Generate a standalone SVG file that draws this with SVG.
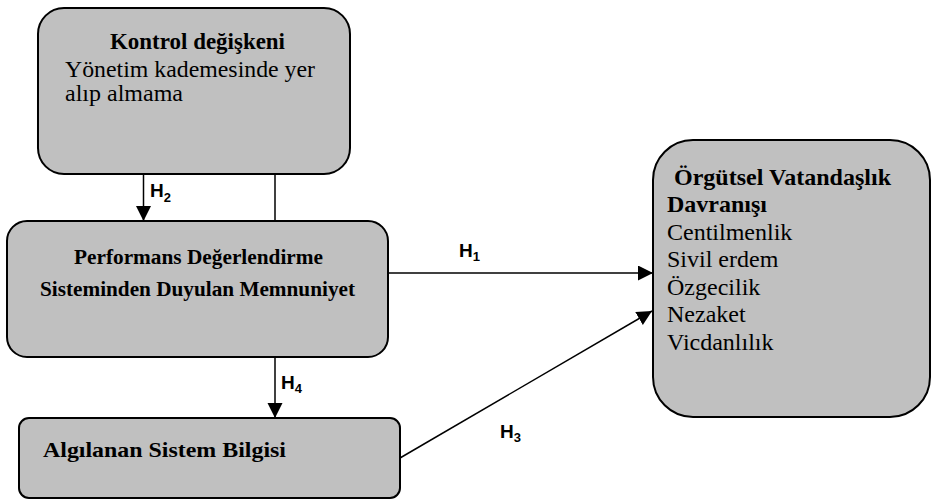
<svg xmlns="http://www.w3.org/2000/svg" width="932" height="499" viewBox="0 0 932 499">
<style>
.box{fill:#c0c0c0;stroke:#000;stroke-width:2}
.serif{font-family:"Liberation Serif","Times New Roman",serif;fill:#000}
.b{font-weight:bold}
.lbl{font-family:"Liberation Sans",Arial,sans-serif;font-weight:bold;fill:#000;font-size:19px}
.sub{font-size:13px}
.conn{stroke:#000;stroke-width:1.5;fill:none}
</style>
<defs>
<marker id="arr" markerUnits="userSpaceOnUse" markerWidth="16" markerHeight="16" refX="15" refY="7.5" orient="auto">
<path d="M0,0 L15,7.5 L0,15 z" fill="#000"/>
</marker>
</defs>
<rect width="932" height="499" fill="#fff"/>
<g id="connectors">
<line class="conn" x1="143.5" y1="174" x2="143.5" y2="221" marker-end="url(#arr)"/>
<line class="conn" x1="275" y1="174" x2="275" y2="221"/>
<line class="conn" x1="388" y1="273" x2="653" y2="273" marker-end="url(#arr)"/>
<line class="conn" x1="275" y1="357" x2="275" y2="418" marker-end="url(#arr)"/>
<line class="conn" x1="400" y1="458" x2="652" y2="311" marker-end="url(#arr)"/>
<text class="lbl" x="150" y="197">H<tspan class="sub" dy="5">2</tspan></text>
<text class="lbl" x="459" y="257">H<tspan class="sub" dy="4">1</tspan></text>
<text class="lbl" x="281" y="389">H<tspan class="sub" dy="4">4</tspan></text>
<text class="lbl" x="500" y="438">H<tspan class="sub" dy="4">3</tspan></text>
</g>
<g id="kontrol">
<rect class="box" x="38" y="8" width="312" height="166" rx="26" ry="26"/>
<text class="serif b" x="110" y="49" font-size="23" textLength="175" lengthAdjust="spacingAndGlyphs">Kontrol değişkeni</text>
<text class="serif" x="65" y="77" font-size="24" textLength="250" lengthAdjust="spacingAndGlyphs">Yönetim kademesinde yer</text>
<text class="serif" x="65" y="101" font-size="24">alıp almama</text>
</g>
<g id="performans">
<rect class="box" x="7" y="221" width="381" height="136" rx="20" ry="20"/>
<text class="serif b" x="74" y="264" font-size="20" textLength="249" lengthAdjust="spacingAndGlyphs">Performans Değerlendirme</text>
<text class="serif b" x="40" y="296" font-size="20" textLength="315" lengthAdjust="spacingAndGlyphs">Sisteminden Duyulan Memnuniyet</text>
</g>
<g id="algilanan">
<rect class="box" x="19" y="418" width="381" height="80" rx="10" ry="10"/>
<text class="serif b" x="43" y="457" font-size="22" textLength="243" lengthAdjust="spacingAndGlyphs">Algılanan Sistem Bilgisi</text>
</g>
<g id="orgutsel">
<rect class="box" x="653" y="140" width="277" height="277" rx="40" ry="40"/>
<text class="serif b" x="674" y="185" font-size="24" textLength="217" lengthAdjust="spacingAndGlyphs">Örgütsel Vatandaşlık</text>
<text class="serif b" x="667" y="212" font-size="24">Davranışı</text>
<text class="serif" x="667" y="239.5" font-size="24">Centilmenlik</text>
<text class="serif" x="667" y="267" font-size="24">Sivil erdem</text>
<text class="serif" x="667" y="294.5" font-size="24">Özgecilik</text>
<text class="serif" x="667" y="322" font-size="24">Nezaket</text>
<text class="serif" x="667" y="349.5" font-size="24">Vicdanlılık</text>
</g>
</svg>
